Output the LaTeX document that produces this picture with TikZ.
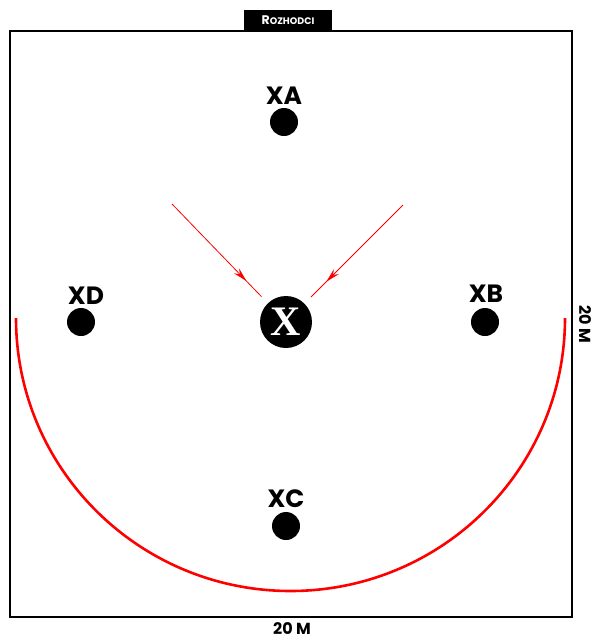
\documentclass[tikz,border=0pt]{standalone}
\usepackage{fontspec}
\setmainfont{Poppins}
\newfontfamily\xfont{Liberation Serif}
\usepackage{tikz}
\usetikzlibrary{arrows.meta, decorations.markings}

\begin{document}
\begin{tikzpicture}[
    x=1pt, y=-1pt,
    player/.style={circle, fill=black, minimum size=28pt, inner sep=0pt},
    plabel/.style={font=\fontsize{25}{25}\selectfont\bfseries, inner sep=0pt},
    dimlabel/.style={font=\fontsize{16}{16}\selectfont\bfseries, inner sep=0pt},
    runline/.style={red, line width=0.8pt, shorten >=9pt,
        postaction={decorate},
        decoration={markings, mark=at position 0.78 with {\arrow[red]{Stealth[length=14pt,width=7pt]}}}}
]
\useasboundingbox (0,0) rectangle (596,641);

% ==================== FIELD ====================
\draw[line width=2.6pt] (10,31) rectangle (572,617);
\node[fill=black, text=white, minimum width=88pt, minimum height=20pt, inner sep=0pt,
      font=\bfseries] (judge) at (288,20)
    {\fontsize{12.5}{12.5}\selectfont R\fontsize{9.5}{9.5}\selectfont OZHODCI};

% dimensions
\node[dimlabel] (dimb) at (292,629) {20 M};
\node[dimlabel, rotate=-90] (dimr) at (585,324) {20 M};

% ==================== PLAYERS ====================
\foreach \name/\px/\py/\lx/\ly in {
    A/284/122/284/96,
    D/81/322/86/296,
    B/485/322/486/294,
    C/286/526/286/499
} {
    \node[player] (p\name) at (\px,\py) {};
    \node[plabel] (l\name) at (\lx,\ly) {X\name};
}

% centre
\node[circle, fill=black, minimum size=52pt, inner sep=0pt,
      font=\xfont\fontsize{42}{42}\selectfont\bfseries, text=white] (centre) at (286,322) {X};

% ==================== RUNS ====================
\coordinate (runl) at (172,204);
\coordinate (runr) at (403,205);
\draw[runline] (runl) -- (centre);
\draw[runline] (runr) -- (centre);

% half circle
\draw[red, line width=2.6pt] (16,318) arc[start angle=180, end angle=0, x radius=274.5, y radius=273];

\end{tikzpicture}
\end{document}
